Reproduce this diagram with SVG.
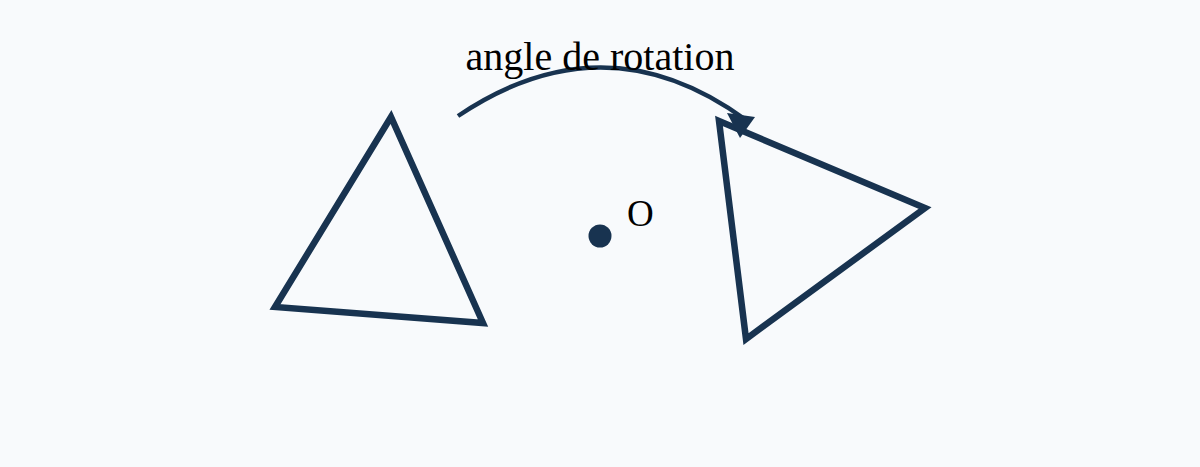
<svg xmlns="http://www.w3.org/2000/svg" width="1200" height="467" viewBox="0 0 1200 467">
<style>
.shape{fill:none;stroke:#183350;stroke-width:6.5;stroke-linejoin:miter}
.lbl{font-family:"Liberation Serif","Times New Roman",serif;fill:#000}
</style>
<rect width="1200" height="467" fill="#f8fafc"/>
<g id="triangle-original">
<polygon class="shape" points="391,117 275,307 483,323"/>
</g>
<g id="triangle-image">
<polygon class="shape" points="719,121 925,208 746,339"/>
</g>
<g id="center-O">
<circle cx="600" cy="236" r="11.5" fill="#183350"/>
<text class="lbl" x="627" y="226" font-size="37">O</text>
</g>
<g id="connectors">
<path d="M458,116 Q605,17 746,120" fill="none" stroke="#183350" stroke-width="4.5"/>
<polygon points="727,113 755,117 740,138" fill="#183350"/>
</g>
<g id="label">
<text class="lbl" x="600" y="70" font-size="40" text-anchor="middle">angle de rotation</text>
</g>
</svg>
